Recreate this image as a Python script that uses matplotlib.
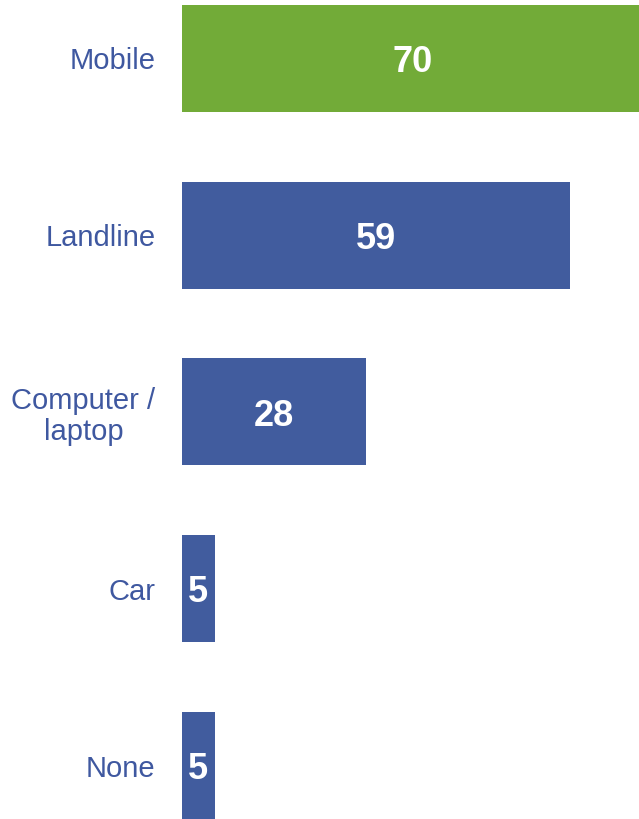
import matplotlib
matplotlib.use("Agg")
import matplotlib.pyplot as plt

categories = ["Mobile", "Landline", "Computer /\nlaptop", "Car", "None"]
values = [70, 59, 28, 5, 5]
bar_colors = ["#72AB38", "#415C9E", "#415C9E", "#415C9E", "#415C9E"]

plt.rcParams["font.family"] = ["Liberation Sans", "DejaVu Sans"]

fig = plt.figure(figsize=(6.39, 8.19), dpi=100)
ax = fig.add_axes([182 / 639, 0, 1 - 182 / 639, 1])

pos = list(range(len(categories)))
bars = ax.barh(pos, values, height=0.605, color=bar_colors)

ax.set_ylim(4.302, -0.33)
ax.set_xlim(0, 69.5)

ax.set_yticks(pos)
ax.set_yticklabels(categories, fontsize=21, color="#3F58A0", linespacing=1.12)
for lbl in ax.get_yticklabels():
    lbl.set_multialignment("center")
ax.tick_params(axis="y", length=0, pad=19)
ax.set_xticks([])
for s in ax.spines.values():
    s.set_visible(False)

for p, v in zip(pos, values):
    ax.annotate(str(v), xy=(v / 2, p), xytext=(0, -3), textcoords="offset points",
                ha="center", va="center", color="white",
                fontsize=26, fontweight="bold")

fig.savefig("out.png", dpi=100)
